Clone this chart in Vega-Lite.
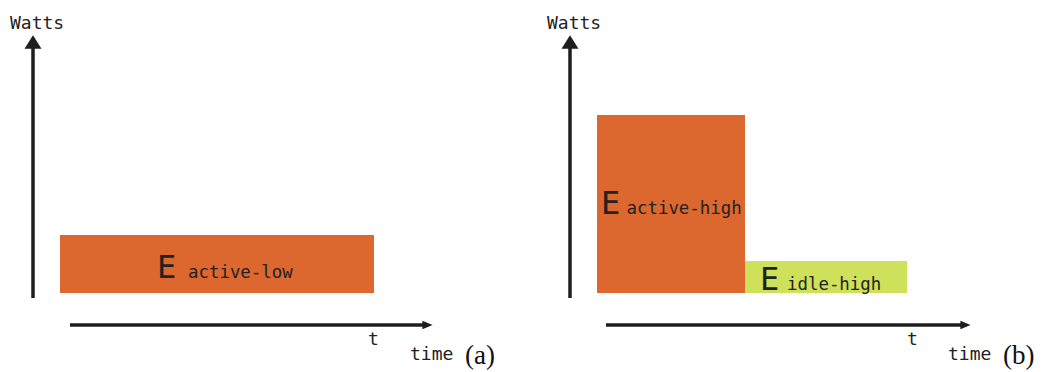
{
  "$schema": "https://vega.github.io/schema/vega-lite/v6.json",
  "padding": 0,
  "spacing": 0,
  "background": "white",
  "config": {"view": {"stroke": null}},
  "datasets": {
    "axes": [
      {"panel": "a", "axis": "Watts", "x": 0, "x2": 0, "y": -1, "y2": 49.5},
      {"panel": "a", "axis": "time", "x": 7.4, "x2": 78.4, "y": -6.4, "y2": -6.4},
      {"panel": "b", "axis": "Watts", "x": 0, "x2": 0, "y": -1, "y2": 49.5},
      {"panel": "b", "axis": "time", "x": 7.2, "x2": 78.6, "y": -6.4, "y2": -6.4}
    ],
    "heads": [
      {"panel": "a", "dir": "up", "x": 0, "y": 50.2},
      {"panel": "a", "dir": "right", "x": 78.9, "y": -6.4},
      {"panel": "b", "dir": "up", "x": 0, "y": 50.2},
      {"panel": "b", "dir": "right", "x": 79.1, "y": -6.4}
    ],
    "blocks": [
      {"panel": "a", "state": "active-low", "start": 5.4, "end": 68.2, "floor": 0, "watts": 11.6},
      {"panel": "b", "state": "active-high", "start": 5.4, "end": 35, "floor": 0, "watts": 35.6},
      {"panel": "b", "state": "idle-high", "start": 35, "end": 67.4, "floor": 0, "watts": 6.4}
    ],
    "labels": [
      {"panel": "a", "role": "axis", "text": "Watts", "x": -4.6, "y": 52.8},
      {"panel": "a", "role": "axis", "text": "t", "x": 67, "y": -10.4},
      {"panel": "a", "role": "axis", "text": "time", "x": 75.4, "y": -13.4},
      {"panel": "a", "role": "tag", "text": "(a)", "x": 86.4, "y": -14.2},
      {"panel": "a", "role": "E", "text": "E", "x": 24.8, "y": 3},
      {"panel": "a", "role": "sub", "text": "active-low", "x": 31, "y": 3},
      {"panel": "b", "role": "axis", "text": "Watts", "x": -4.6, "y": 52.8},
      {"panel": "b", "role": "axis", "text": "t", "x": 67.4, "y": -10.4},
      {"panel": "b", "role": "axis", "text": "time", "x": 75.6, "y": -13.4},
      {"panel": "b", "role": "tag", "text": "(b)", "x": 86.6, "y": -14.2},
      {"panel": "b", "role": "E", "text": "E", "x": 6.2, "y": 15.8},
      {"panel": "b", "role": "sub", "text": "active-high", "x": 11.3, "y": 15.8},
      {"panel": "b", "role": "E", "text": "E", "x": 38, "y": 0.6},
      {"panel": "b", "role": "sub", "text": "idle-high", "x": 43.4, "y": 0.6}
    ]
  },
  "hconcat": [
    {
      "width": 537,
      "height": 372,
      "layer": [
        {
          "data": {"name": "blocks"},
          "transform": [{"filter": "datum.panel === 'a'"}],
          "mark": {"type": "rect"},
          "encoding": {
            "x": {"field": "start", "type": "quantitative", "scale": {"domain": [-6.6, 100.8], "zero": false, "nice": false}, "axis": null},
            "x2": {"field": "end"},
            "y": {"field": "floor", "type": "quantitative", "scale": {"domain": [-15.8, 58.6], "zero": false, "nice": false}, "axis": null},
            "y2": {"field": "watts"},
            "color": {"field": "state", "type": "nominal", "scale": {"domain": ["active-low", "active-high", "idle-high"], "range": ["#dc672f", "#dc672f", "#cfe05a"]}, "legend": null}
          }
        },
        {
          "data": {"name": "axes"},
          "transform": [{"filter": "datum.panel === 'a'"}],
          "mark": {"type": "rule", "strokeWidth": 3.5, "color": "#1e1e1e"},
          "encoding": {
            "x": {"field": "x", "type": "quantitative", "axis": null},
            "x2": {"field": "x2"},
            "y": {"field": "y", "type": "quantitative", "axis": null},
            "y2": {"field": "y2"}
          }
        },
        {
          "data": {"name": "heads"},
          "transform": [{"filter": "datum.panel === 'a'"}],
          "mark": {"type": "point", "filled": true, "opacity": 1, "size": 289, "color": "#1e1e1e", "strokeWidth": 0},
          "encoding": {
            "x": {"field": "x", "type": "quantitative", "axis": null},
            "y": {"field": "y", "type": "quantitative", "axis": null},
            "shape": {"field": "dir", "type": "nominal", "scale": {"domain": ["up", "right"], "range": ["M0,-0.8L1,0.8L-1,0.8Z", "M0.6,0L-0.6,-0.5L-0.6,0.5Z"]}, "legend": null}
          }
        },
        {
          "data": {"name": "labels"},
          "transform": [{"filter": "datum.panel === 'a' && datum.role === 'axis'"}],
          "mark": {"type": "text", "font": "DejaVu Sans Mono", "fontSize": 18, "color": "#222222", "baseline": "alphabetic", "align": "left"},
          "encoding": {
            "x": {"field": "x", "type": "quantitative", "axis": null},
            "y": {"field": "y", "type": "quantitative", "axis": null},
            "text": {"field": "text"}
          }
        },
        {
          "data": {"name": "labels"},
          "transform": [{"filter": "datum.panel === 'a' && datum.role === 'tag'"}],
          "mark": {"type": "text", "font": "Liberation Serif", "fontSize": 27, "color": "#111111", "baseline": "alphabetic", "align": "left"},
          "encoding": {
            "x": {"field": "x", "type": "quantitative", "axis": null},
            "y": {"field": "y", "type": "quantitative", "axis": null},
            "text": {"field": "text"}
          }
        },
        {
          "data": {"name": "labels"},
          "transform": [{"filter": "datum.panel === 'a' && datum.role === 'E'"}],
          "mark": {"type": "text", "font": "DejaVu Sans Mono", "fontSize": 32, "color": "#222222", "baseline": "alphabetic", "align": "left"},
          "encoding": {
            "x": {"field": "x", "type": "quantitative", "axis": null},
            "y": {"field": "y", "type": "quantitative", "axis": null},
            "text": {"field": "text"}
          }
        },
        {
          "data": {"name": "labels"},
          "transform": [{"filter": "datum.panel === 'a' && datum.role === 'sub'"}],
          "mark": {"type": "text", "font": "DejaVu Sans Mono", "fontSize": 17.4, "color": "#222222", "baseline": "alphabetic", "align": "left"},
          "encoding": {
            "x": {"field": "x", "type": "quantitative", "axis": null},
            "y": {"field": "y", "type": "quantitative", "axis": null},
            "text": {"field": "text"}
          }
        }
      ]
    },
    {
      "width": 504,
      "height": 372,
      "layer": [
        {
          "data": {"name": "blocks"},
          "transform": [{"filter": "datum.panel === 'b'"}],
          "mark": {"type": "rect"},
          "encoding": {
            "x": {"field": "start", "type": "quantitative", "scale": {"domain": [-6.6, 94.2], "zero": false, "nice": false}, "axis": null},
            "x2": {"field": "end"},
            "y": {"field": "floor", "type": "quantitative", "scale": {"domain": [-15.8, 58.6], "zero": false, "nice": false}, "axis": null},
            "y2": {"field": "watts"},
            "color": {"field": "state", "type": "nominal", "scale": {"domain": ["active-low", "active-high", "idle-high"], "range": ["#dc672f", "#dc672f", "#cfe05a"]}, "legend": null}
          }
        },
        {
          "data": {"name": "axes"},
          "transform": [{"filter": "datum.panel === 'b'"}],
          "mark": {"type": "rule", "strokeWidth": 3.5, "color": "#1e1e1e"},
          "encoding": {
            "x": {"field": "x", "type": "quantitative", "axis": null},
            "x2": {"field": "x2"},
            "y": {"field": "y", "type": "quantitative", "axis": null},
            "y2": {"field": "y2"}
          }
        },
        {
          "data": {"name": "heads"},
          "transform": [{"filter": "datum.panel === 'b'"}],
          "mark": {"type": "point", "filled": true, "opacity": 1, "size": 289, "color": "#1e1e1e", "strokeWidth": 0},
          "encoding": {
            "x": {"field": "x", "type": "quantitative", "axis": null},
            "y": {"field": "y", "type": "quantitative", "axis": null},
            "shape": {"field": "dir", "type": "nominal", "scale": {"domain": ["up", "right"], "range": ["M0,-0.8L1,0.8L-1,0.8Z", "M0.6,0L-0.6,-0.5L-0.6,0.5Z"]}, "legend": null}
          }
        },
        {
          "data": {"name": "labels"},
          "transform": [{"filter": "datum.panel === 'b' && datum.role === 'axis'"}],
          "mark": {"type": "text", "font": "DejaVu Sans Mono", "fontSize": 18, "color": "#222222", "baseline": "alphabetic", "align": "left"},
          "encoding": {
            "x": {"field": "x", "type": "quantitative", "axis": null},
            "y": {"field": "y", "type": "quantitative", "axis": null},
            "text": {"field": "text"}
          }
        },
        {
          "data": {"name": "labels"},
          "transform": [{"filter": "datum.panel === 'b' && datum.role === 'tag'"}],
          "mark": {"type": "text", "font": "Liberation Serif", "fontSize": 27, "color": "#111111", "baseline": "alphabetic", "align": "left"},
          "encoding": {
            "x": {"field": "x", "type": "quantitative", "axis": null},
            "y": {"field": "y", "type": "quantitative", "axis": null},
            "text": {"field": "text"}
          }
        },
        {
          "data": {"name": "labels"},
          "transform": [{"filter": "datum.panel === 'b' && datum.role === 'E'"}],
          "mark": {"type": "text", "font": "DejaVu Sans Mono", "fontSize": 32, "color": "#222222", "baseline": "alphabetic", "align": "left"},
          "encoding": {
            "x": {"field": "x", "type": "quantitative", "axis": null},
            "y": {"field": "y", "type": "quantitative", "axis": null},
            "text": {"field": "text"}
          }
        },
        {
          "data": {"name": "labels"},
          "transform": [{"filter": "datum.panel === 'b' && datum.role === 'sub'"}],
          "mark": {"type": "text", "font": "DejaVu Sans Mono", "fontSize": 17.4, "color": "#222222", "baseline": "alphabetic", "align": "left"},
          "encoding": {
            "x": {"field": "x", "type": "quantitative", "axis": null},
            "y": {"field": "y", "type": "quantitative", "axis": null},
            "text": {"field": "text"}
          }
        }
      ]
    }
  ]
}
